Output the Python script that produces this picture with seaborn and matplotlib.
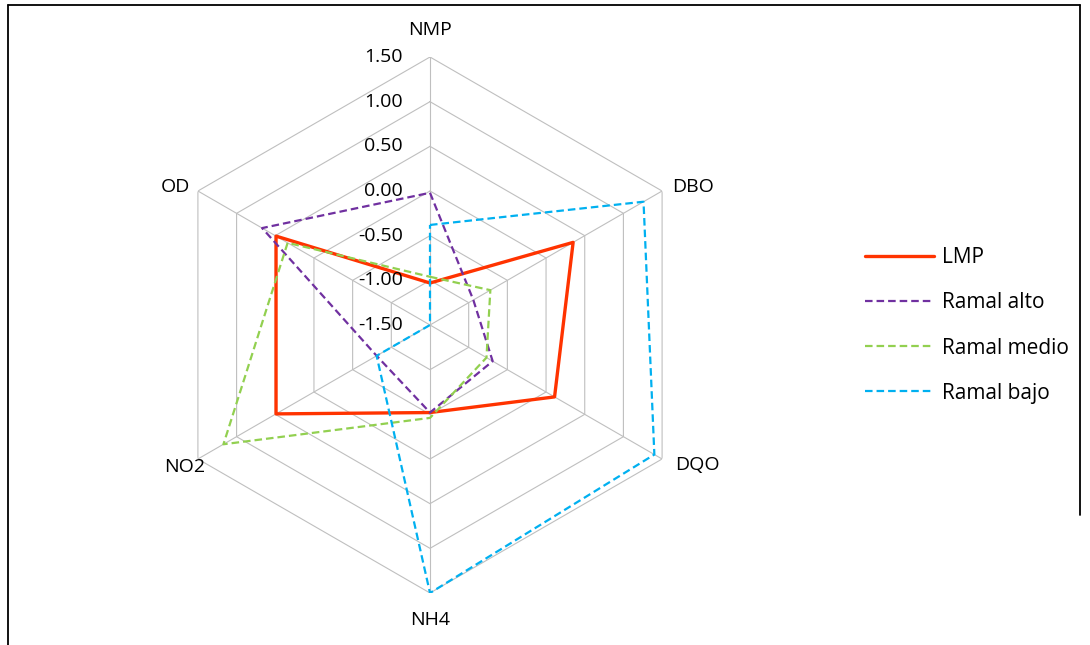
import numpy as np
import pandas as pd
import matplotlib
matplotlib.use("Agg")
import matplotlib.pyplot as plt
from matplotlib.lines import Line2D
import seaborn as sns

# ---- data ----
categories = ["NMP", "DBO", "DQO", "NH4", "NO2", "OD"]
lmp = [-1.03, 0.35, 0.11, -0.52, 0.49, 0.49]
ramal_alto = [-0.02, -0.94, -0.69, -0.52, -0.81, 0.67]
ramal_medio = [-0.96, -0.72, -0.77, -0.46, 1.17, 0.34]
ramal_bajo = [-0.38, 1.26, 1.40, 1.50, -0.81, -1.50]
series_names = ["LMP", "Ramal alto", "Ramal medio", "Ramal bajo"]
tick_values = [-1.5, -1.0, -0.5, 0.0, 0.5, 1.0, 1.5]
tick_labels = ["-1.50", "-1.00", "-0.50", "0.00", "0.50", "1.00", "1.50"]

colors = {"LMP": "#FF3300", "Ramal alto": "#7030A0",
          "Ramal medio": "#92D050", "Ramal bajo": "#00B0F0"}

sns.set_theme(style="white")
plt.rcParams["font.family"] = ["Open Sans", "DejaVu Sans"]
plt.rcParams["text.color"] = "#000000"

W, H = 1090, 645
fig = plt.figure(figsize=(W / 100, H / 100), dpi=100)
cx, cy, R = 430, 325, 268
ax = fig.add_axes([(cx - R) / W, (H - cy - R) / H, 2 * R / W, 2 * R / H],
                  projection="polar")
ax.set_theta_offset(np.pi / 2)
ax.set_theta_direction(-1)
ax.set_ylim(tick_values[0], tick_values[-1])
ax.grid(False)
ax.spines["polar"].set_visible(False)
ax.set_xticks([])
ax.set_yticks([])
ax.patch.set_alpha(0)

n = len(categories)
theta = np.linspace(0, 2 * np.pi, n, endpoint=False)
theta_closed = np.append(theta, theta[0])

grid_col = "#BFBFBF"
for v in tick_values[1:]:
    ax.plot(theta_closed, [v] * (n + 1), color=grid_col, lw=0.8, zorder=1)
for t in theta:
    ax.plot([t, t], [tick_values[0], tick_values[-1]], color=grid_col, lw=0.8, zorder=1)

rows = []
for name, vals in zip(series_names, [lmp, ramal_alto, ramal_medio, ramal_bajo]):
    closed = list(vals) + [vals[0]]
    for i, (t, v) in enumerate(zip(theta_closed, closed)):
        rows.append({"serie": name, "theta": t, "valor": v, "orden": i})
df = pd.DataFrame(rows)

dash = (0, (3.4, 1.8))
styles = {"LMP": dict(lw=2.4, linestyle="-"),
          "Ramal alto": dict(lw=1.6, linestyle=dash),
          "Ramal medio": dict(lw=1.6, linestyle=dash),
          "Ramal bajo": dict(lw=1.6, linestyle=dash)}
handles = []
for name in series_names:
    sub = df[df["serie"] == name]
    sns.lineplot(data=sub, x="theta", y="valor", sort=False, estimator=None,
                 ax=ax, color=colors[name], legend=False, zorder=3,
                 **styles[name])
    handles.append(Line2D([0], [0], color=colors[name], **styles[name]))
ax.set_xlabel("")
ax.set_ylabel("")

# radial tick labels along the top axis
for v, lab in zip(tick_values, tick_labels):
    ax.annotate(lab, xy=(0, v), xytext=(-27, 0), textcoords="offset pixels",
                ha="right", va="center", fontsize=14, color="#000000")

# category labels
offsets = {"NMP": (0, 27, "center"), "DBO": (10, 4, "left"),
           "DQO": (13, -6, "left"), "NH4": (0, -27, "center"),
           "NO2": (7, -8, "right"), "OD": (-8, 4, "right")}
for t, cat in zip(theta, categories):
    dx, dy, ha = offsets[cat]
    ax.annotate(cat, xy=(t, tick_values[-1]), xytext=(dx, dy),
                textcoords="offset pixels", ha=ha, va="center",
                fontsize=14, color="#000000", annotation_clip=False)

fig.legend(handles, series_names, loc="center left",
           bbox_to_anchor=(865 / W, 1 - 325.5 / H), frameon=False,
           fontsize=15, handlelength=3.3, handletextpad=0.42,
           labelspacing=1.16, borderpad=0, borderaxespad=0,
           labelcolor="#000000")

# chart frame
fr = dict(color="#000000", lw=1.3, transform=fig.transFigure)
fig.add_artist(Line2D([8 / W, 1080 / W], [1 - 5 / H, 1 - 5 / H], **fr))
fig.add_artist(Line2D([8 / W, 8 / W], [0, 1 - 5 / H], **fr))
fig.add_artist(Line2D([1080 / W, 1080 / W], [1 - 515 / H, 1 - 5 / H], **fr))

fig.savefig("out.png", dpi=100)
